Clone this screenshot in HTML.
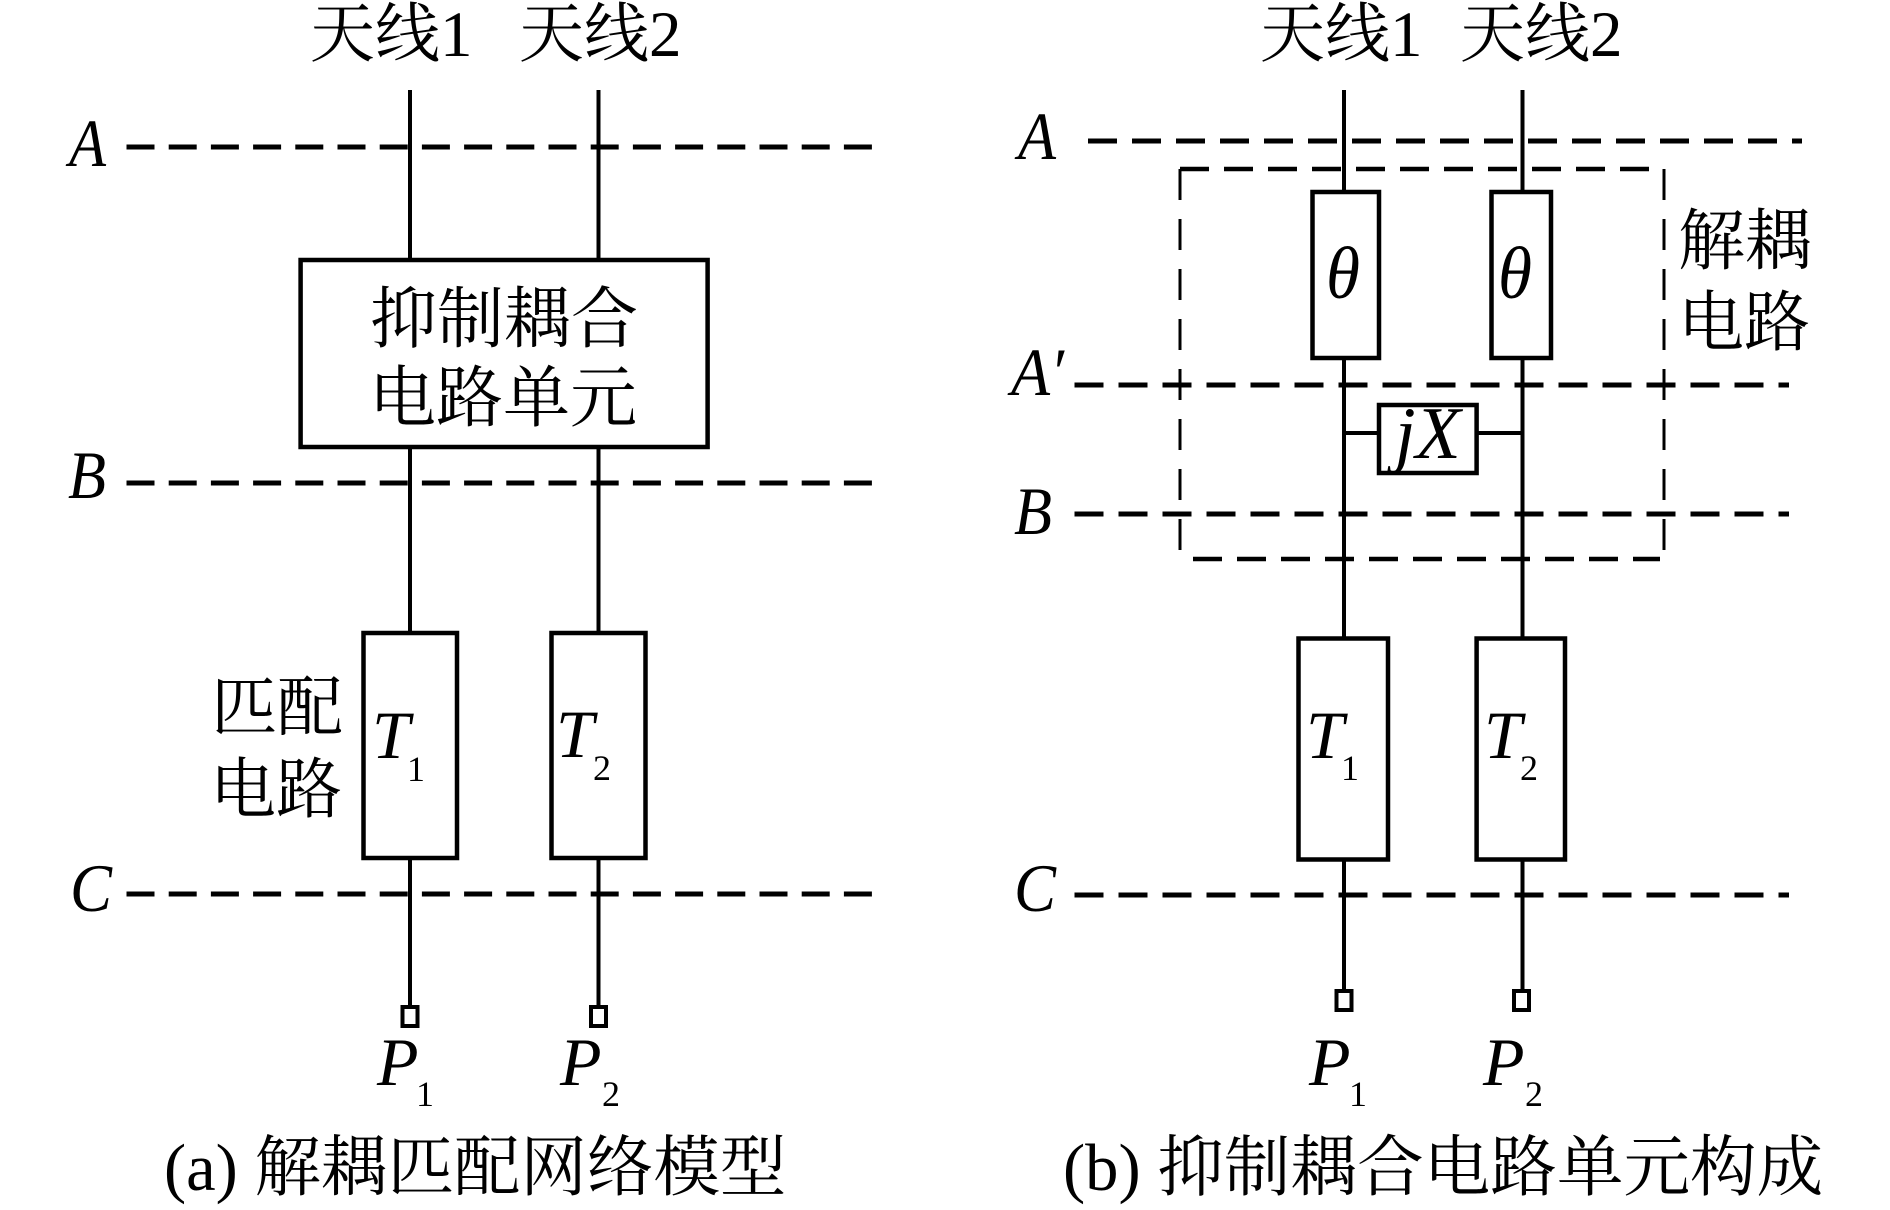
<!DOCTYPE html>
<html><head><meta charset="utf-8"><style>
html,body{margin:0;padding:0;background:#fff}
svg{display:block}
text{fill:#000;font-family:"Liberation Serif","Noto Serif CJK SC",serif}
.i{font-style:italic;font-size:68px}
.s{font-size:36px}
.c{font-size:65px}
.m{font-size:66px}
.t{font-size:67px}
.d{stroke:#000;stroke-width:5;fill:none;stroke-dasharray:28 14.2}
.e{stroke:#000;stroke-width:5;fill:none;stroke-dasharray:29 15}
.l{stroke:#000;stroke-width:4;fill:none}
.b{stroke:#000;stroke-width:4.5;fill:#fff}
.p{stroke:#000;stroke-width:4;fill:#fff}
</style></head><body>
<svg width="1890" height="1210" viewBox="0 0 1890 1210" xmlns="http://www.w3.org/2000/svg">
<rect width="1890" height="1210" fill="#fff"/>
<!-- Left panel -->
<path class="l" d="M410 90V1006M598.5 90V1006"/>
<path class="d" d="M126.5 147H873M126.5 483H873M126.5 894H873"/>
<rect class="b" x="300.6" y="260" width="407" height="187"/>
<rect class="b" x="363.5" y="633" width="93.5" height="225"/>
<rect class="b" x="551.5" y="633" width="94" height="225"/>
<rect class="p" x="402.5" y="1007" width="15" height="19"/>
<rect class="p" x="591" y="1007" width="15" height="19"/>
<text class="c" x="310" y="56">天线1</text>
<text class="c" x="519" y="56">天线2</text>
<text class="i" x="69" y="166" textLength="37" lengthAdjust="spacingAndGlyphs">A</text>
<text class="i" x="68" y="498" textLength="38" lengthAdjust="spacingAndGlyphs">B</text>
<text class="i" x="70" y="911" textLength="42" lengthAdjust="spacingAndGlyphs">C</text>
<text class="t" x="370" y="342">抑制耦合</text>
<text class="t" x="369" y="421">电路单元</text>
<text class="m" x="211" y="730">匹配</text>
<text class="m" x="210" y="812">电路</text>
<text class="i" x="372" y="758">T</text><text class="s" x="407" y="781">1</text>
<text class="i" x="556" y="757">T</text><text class="s" x="593" y="780">2</text>
<text class="i" x="377" y="1085">P</text><text class="s" x="416" y="1106">1</text>
<text class="i" x="560" y="1085">P</text><text class="s" x="602" y="1106">2</text>
<text x="164" y="1190" style="font-size:66.5px">(a) 解耦匹配网络模型</text>
<!-- Right panel -->
<path class="l" d="M1344 90V191M1522.5 90V191M1344 357V990M1522.5 357V990M1344 433H1379M1476.6 433H1522.5"/>
<path class="e" d="M1088 141H1802M1074.5 385H1789M1074.5 514H1789M1074.5 895H1789"/>
<path d="M1180 169H1650M1193 559H1660" fill="none" stroke="#000" stroke-width="4.5" stroke-dasharray="29 15"/>
<path d="M1180 169V559M1664 169V559" fill="none" stroke="#000" stroke-width="3" stroke-dasharray="31 19"/>
<rect class="b" x="1312.5" y="192" width="66.5" height="166"/>
<rect class="b" x="1491.5" y="192" width="59.5" height="166"/>
<rect class="b" x="1379" y="405" width="97.6" height="68"/>
<rect class="b" x="1298.5" y="638.5" width="89.5" height="221"/>
<rect class="b" x="1476.6" y="638.5" width="88.4" height="221"/>
<rect class="p" x="1336.5" y="991" width="15" height="19"/>
<rect class="p" x="1514" y="991" width="15" height="19"/>
<text class="c" x="1260" y="56">天线1</text>
<text class="c" x="1460" y="56">天线2</text>
<text class="i" x="1018" y="159" textLength="38" lengthAdjust="spacingAndGlyphs">A</text>
<text class="i" x="1011" y="395" textLength="53" lengthAdjust="spacingAndGlyphs">A′</text>
<text class="i" x="1014" y="534" textLength="38" lengthAdjust="spacingAndGlyphs">B</text>
<text class="i" x="1014" y="911" textLength="42" lengthAdjust="spacingAndGlyphs">C</text>
<text class="i" x="1326" y="298" style="font-size:74px" textLength="34" lengthAdjust="spacingAndGlyphs">θ</text>
<text class="i" x="1498" y="298" style="font-size:74px" textLength="34" lengthAdjust="spacingAndGlyphs">θ</text>
<text class="t" x="1678" y="264">解耦</text>
<text class="m" x="1678" y="345">电路</text>
<text class="i" x="1395" y="458" style="font-size:74px">jX</text>
<text class="i" x="1306" y="758">T</text><text class="s" x="1341" y="780">1</text>
<text class="i" x="1484" y="758">T</text><text class="s" x="1520" y="780">2</text>
<text class="i" x="1309" y="1085">P</text><text class="s" x="1349" y="1106">1</text>
<text class="i" x="1483" y="1085">P</text><text class="s" x="1525" y="1106">2</text>
<text x="1063" y="1190" style="font-size:66.6px">(b) 抑制耦合电路单元构成</text>
</svg>
</body></html>
